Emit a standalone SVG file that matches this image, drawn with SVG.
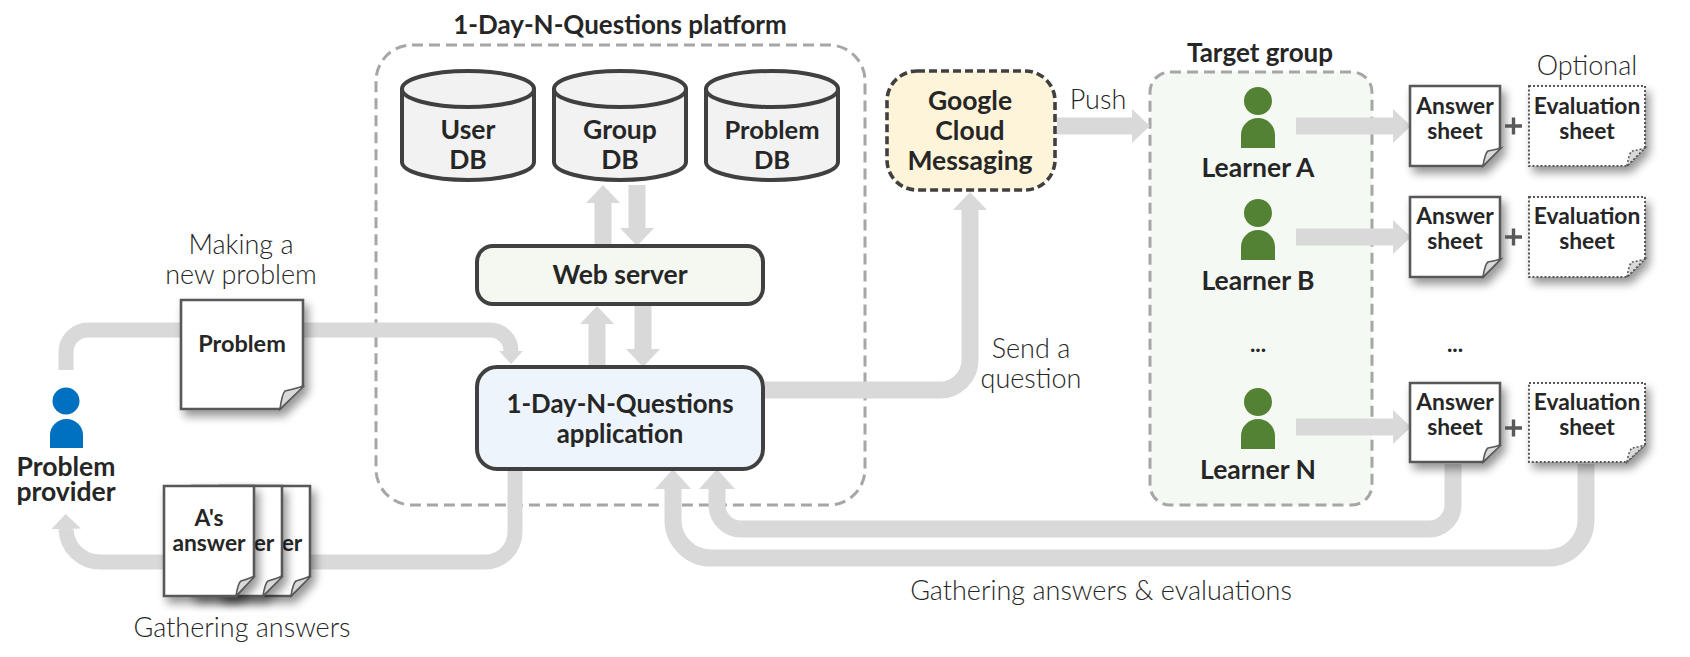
<svg xmlns="http://www.w3.org/2000/svg" width="1690" height="657" viewBox="0 0 1690 657">
<style>
text{font-family:"Lato","Liberation Sans",sans-serif;fill:#262626;text-anchor:middle}
.t{font-weight:700;font-size:26px}
.b{font-weight:700;font-size:26.500px}
.m{font-weight:700;font-size:22.800px}
.l{font-weight:300;font-size:27px}
.conn{fill:none;stroke:#d9d9d9;stroke-width:17}
.c15{stroke-width:15}
.db{fill:#f2f2f2;stroke:#404040;stroke-width:4}
.box{stroke:#404040;stroke-width:4}
.group{stroke:#a6a6a6;stroke-width:3;stroke-dasharray:11 6}
.doc{fill:#fff;stroke:#595959;stroke-width:2.600;filter:url(#sh)}
.eval{fill:#fff;stroke:#595959;stroke-width:2;stroke-dasharray:2 2;filter:url(#sh)}
.fold{fill:#d9d9d9;stroke:#595959;stroke-width:1.600}
.foldd{fill:#d9d9d9;stroke:#595959;stroke-width:1.600;stroke-dasharray:2 2}
.plus{stroke:#595959;stroke-width:3.400}
</style>
<defs>
<filter id="sh" x="-30%" y="-30%" width="170%" height="170%"><feGaussianBlur in="SourceAlpha" stdDeviation="5"/><feOffset dx="4" dy="6"/><feComponentTransfer><feFuncA type="linear" slope="0.42"/></feComponentTransfer><feMerge><feMergeNode/><feMergeNode in="SourceGraphic"/></feMerge></filter>
<marker id="a" markerUnits="userSpaceOnUse" markerWidth="18" markerHeight="34" refX="0" refY="17" orient="auto"><path d="M0 0L18 17L0 34Z" fill="#d9d9d9"/></marker>
<marker id="as" markerUnits="userSpaceOnUse" markerWidth="13" markerHeight="24" refX="0" refY="12" orient="auto"><path d="M0 0L13 12L0 24Z" fill="#d9d9d9"/></marker>
<marker id="am" markerUnits="userSpaceOnUse" markerWidth="15" markerHeight="30" refX="0" refY="15" orient="auto"><path d="M0 0L15 15L0 30Z" fill="#d9d9d9"/></marker>
<marker id="al" markerUnits="userSpaceOnUse" markerWidth="20" markerHeight="36" refX="0" refY="18" orient="auto"><path d="M0 0L20 18L0 36Z" fill="#d9d9d9"/></marker>
</defs>

<g id="platform">
<rect class="group" x="376" y="45" width="489" height="460" rx="36" fill="none"/>
<text class="t" x="620" y="34">1-Day-N-Questions platform</text>
</g>
<g id="target-group">
<rect class="group" x="1150" y="72" width="222" height="433" rx="20" fill="#f5f9f4"/>
<text class="t" x="1260" y="62">Target group</text>
</g>

<g id="connectors">
<path class="conn c15" d="M66 370V352A22 22 0 0 1 88 330H490A21 21 0 0 1 511 351" marker-end="url(#as)"/>
<path class="conn c15" d="M515 470V532A30 30 0 0 1 485 562H100A34 34 0 0 1 66 529" marker-end="url(#am)"/>
<path class="conn" d="M603 244V203" marker-end="url(#a)"/>
<path class="conn" d="M637 185V228" marker-end="url(#a)"/>
<path class="conn" d="M597 365V324" marker-end="url(#a)"/>
<path class="conn" d="M643 306V349" marker-end="url(#a)"/>
<path class="conn" d="M765 390H940A30 30 0 0 0 970 360V210" marker-end="url(#a)"/>
<path class="conn" d="M1057 126H1132" marker-end="url(#a)"/>
<path class="conn" d="M1296 126H1393" marker-end="url(#a)"/>
<path class="conn" d="M1296 237H1393" marker-end="url(#a)"/>
<path class="conn" d="M1296 427H1393" marker-end="url(#a)"/>
<path class="conn" d="M1453 464V505A24 24 0 0 1 1429 529H741A24 24 0 0 1 717 505V489" marker-end="url(#al)"/>
<path class="conn" d="M1586 464V520A38 38 0 0 1 1548 558H711A38 38 0 0 1 673 520V489" marker-end="url(#al)"/>
</g>

<g id="user-db">
<path class="db" d="M402 89V162C402 172 432 180 468 180S534 172 534 162V89"/><ellipse class="db" cx="468" cy="89" rx="66" ry="18"/>
<text class="b" x="468" y="139">User<tspan x="468" y="169">DB</tspan></text>
</g>
<g id="group-db">
<path class="db" d="M554 89V162C554 172 584 180 620 180S686 172 686 162V89"/><ellipse class="db" cx="620" cy="89" rx="66" ry="18"/>
<text class="b" x="620" y="139">Group<tspan x="620" y="169">DB</tspan></text>
</g>
<g id="problem-db">
<path class="db" d="M706 89V162C706 172 736 180 772 180S838 172 838 162V89"/><ellipse class="db" cx="772" cy="89" rx="66" ry="18"/>
<text class="b" x="772" y="139" style="font-size:25.500px">Problem<tspan x="772" y="169">DB</tspan></text>
</g>
<g id="web-server">
<rect class="box" x="477" y="246" width="286" height="58" rx="16" fill="#f4f8f1"/>
<text class="b" x="620" y="284">Web server</text>
</g>
<g id="application">
<rect class="box" x="477" y="367" width="286" height="102" rx="20" fill="#edf4fb"/>
<text class="b" x="620" y="413" style="font-size:25.800px">1-Day-N-Questions<tspan x="620" y="443">application</tspan></text>
</g>
<g id="gcm">
<rect x="887" y="71" width="168" height="119" rx="30" fill="#fef4d9" stroke="#404040" stroke-width="3.600" stroke-dasharray="8 4"/>
<text class="b" x="970" y="110">Google<tspan x="970" y="140">Cloud</tspan><tspan x="970" y="170">Messaging</tspan></text>
</g>

<g id="problem-provider">
<circle cx="66" cy="401" r="13.500" fill="#0070c0"/><path d="M50 448V435A16.500 16 0 0 1 83 435V448Z" fill="#0070c0"/>
<text class="b" x="66" y="476">Problem<tspan x="66" y="501">provider</tspan></text>
</g>
<g id="problem-doc">
<path class="doc" d="M181 300H303V386L280 409H181Z"/><path class="fold" d="M280 409Q282 394 285 391Q294 389 304 386Z"/>
<text class="m" x="242" y="352" style="font-size:23.500px">Problem</text>
</g>
<g id="answers-stack">
<path class="doc" d="M220 486H310V576L291 596H220Z"/><path class="fold" d="M291 596Q293 583 296 581Q303 579 311 576Z"/><text class="m" x="292" y="551">er</text>
<path class="doc" d="M192 486H282V576L263 596H192Z"/><path class="fold" d="M263 596Q265 583 268 581Q275 579 283 576Z"/><text class="m" x="264" y="551">er</text>
<path class="doc" d="M164 486H254V576L236 596H164Z"/><path class="fold" d="M236 596Q238 583 241 581Q248 579 255 576Z"/>
<text class="m" x="209" y="526">A's<tspan x="209" y="551">answer</tspan></text>
</g>

<g id="learner-a">
<circle cx="1258" cy="101" r="14" fill="#548235"/><path d="M1241 148V135A17 17 0 0 1 1275 135V148Z" fill="#548235"/>
<text class="b" x="1258" y="177">Learner A</text>
</g>
<g id="learner-b">
<circle cx="1258" cy="213" r="14" fill="#548235"/><path d="M1241 260V247A17 17 0 0 1 1275 247V260Z" fill="#548235"/>
<text class="b" x="1258" y="290">Learner B</text>
</g>
<text class="m" x="1258" y="352">...</text>
<text class="m" x="1455" y="352">...</text>
<g id="learner-n">
<circle cx="1258" cy="402" r="14" fill="#548235"/><path d="M1241 449V436A17 17 0 0 1 1275 436V449Z" fill="#548235"/>
<text class="b" x="1258" y="479">Learner N</text>
</g>

<g id="answer-a">
<path class="doc" d="M1410 86H1500V148L1483 166H1410Z"/><path class="fold" d="M1483 166Q1485 153 1488 151Q1494 150 1501 148Z"/>
<text class="m" x="1455" y="114">Answer<tspan x="1455" y="139">sheet</tspan></text>
</g>
<g id="eval-a">
<path class="eval" d="M1529 86H1645V148L1627 166H1529Z"/><path class="foldd" d="M1627 166Q1629 153 1632 151Q1638 150 1645 148Z"/>
<text class="m" x="1587" y="114">Evaluation<tspan x="1587" y="139">sheet</tspan></text>
</g>
<path class="plus" d="M1505 126H1522M1513.500 117.500V134.500"/>
<g id="answer-b">
<path class="doc" d="M1410 197H1500V259L1483 277H1410Z"/><path class="fold" d="M1483 277Q1485 264 1488 262Q1494 261 1501 259Z"/>
<text class="m" x="1455" y="224">Answer<tspan x="1455" y="249">sheet</tspan></text>
</g>
<g id="eval-b">
<path class="eval" d="M1529 197H1645V259L1627 277H1529Z"/><path class="foldd" d="M1627 277Q1629 264 1632 262Q1638 261 1645 259Z"/>
<text class="m" x="1587" y="224">Evaluation<tspan x="1587" y="249">sheet</tspan></text>
</g>
<path class="plus" d="M1505 237H1522M1513.500 228.500V245.500"/>
<g id="answer-n">
<path class="doc" d="M1410 383H1500V445L1483 462H1410Z"/><path class="fold" d="M1483 462Q1485 450 1488 448Q1494 447 1501 445Z"/>
<text class="m" x="1455" y="410">Answer<tspan x="1455" y="435">sheet</tspan></text>
</g>
<g id="eval-n">
<path class="eval" d="M1529 383H1645V445L1627 462H1529Z"/><path class="foldd" d="M1627 462Q1629 450 1632 448Q1638 447 1645 445Z"/>
<text class="m" x="1587" y="410">Evaluation<tspan x="1587" y="435">sheet</tspan></text>
</g>
<path class="plus" d="M1505 428H1522M1513.500 419.500V436.500"/>

<g id="labels">
<text class="l" x="241" y="254">Making a<tspan x="241" y="284">new problem</tspan></text>
<text class="l" x="242" y="637">Gathering answers</text>
<text class="l" x="1098" y="109">Push</text>
<text class="l" x="1031" y="358">Send a<tspan x="1031" y="388">question</tspan></text>
<text class="l" x="1587" y="75">Optional</text>
<text class="l" x="1101" y="600">Gathering answers &amp; evaluations</text>
</g>
</svg>
